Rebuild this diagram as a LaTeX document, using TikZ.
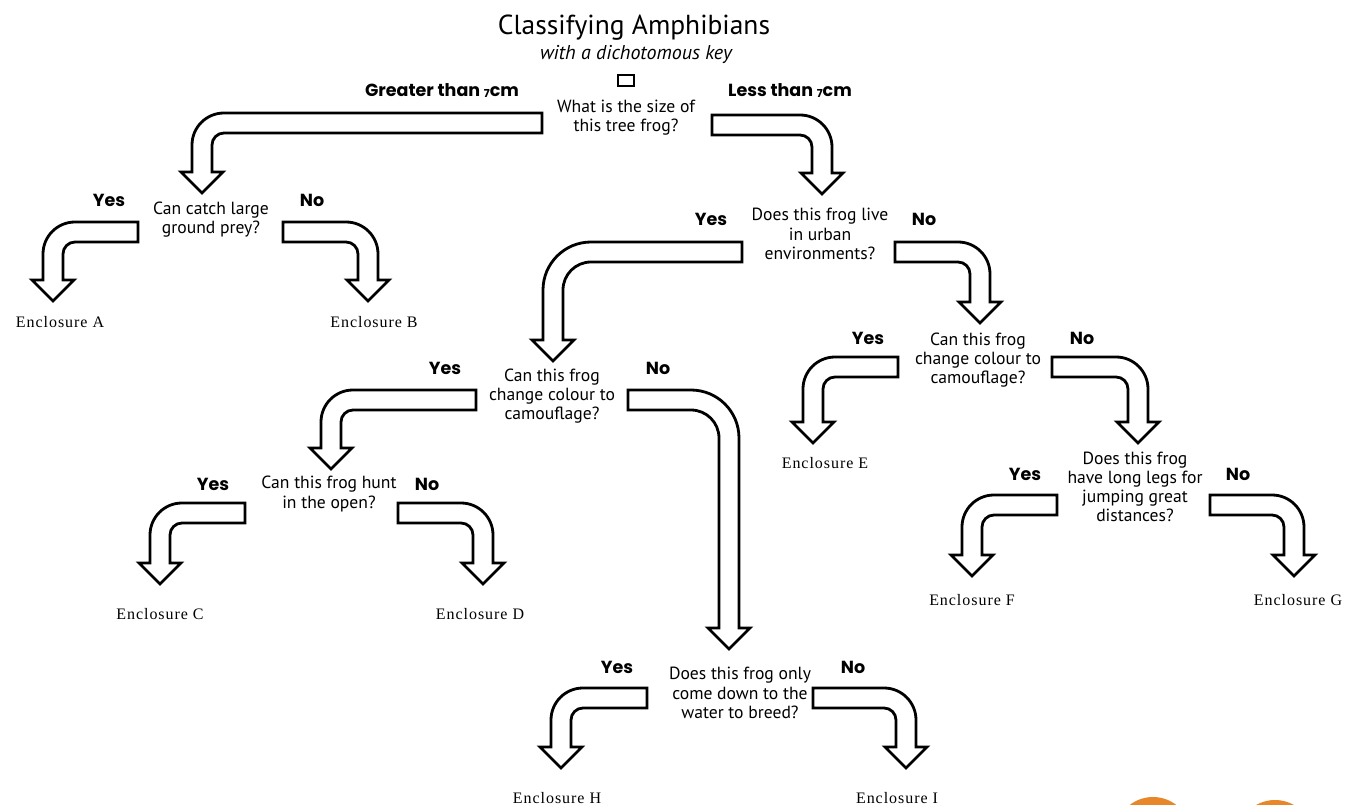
\documentclass[tikz,border=0pt]{standalone}
\usepackage{fontspec}
\setmainfont{PT Sans}
\newfontfamily\ynfont{Poppins}
\newfontfamily\encfont{Liberation Serif}[LetterSpace=6]
\definecolor{blob}{HTML}{E8872A}
\tikzset{
  arrowline/.style={draw=black, line width=2.8pt, fill=white, line join=miter},
  question/.style={align=center, font=\fontsize{17.6}{19.2}\selectfont, inner sep=0pt},
  yn/.style={font=\ynfont\bfseries\fontsize{17.5}{17.5}\selectfont, inner sep=0pt},
  encl/.style={font=\encfont\fontsize{16}{16}\selectfont, inner sep=0pt},
}
% left-turning bent arrow: tail right x, band top y, shaft centre x, head base y, outer radius
\newcommand{\leftarrowshape}[5]{%
  \draw[arrowline] (#1,-#2) -- ({#3-10+#5},-#2) arc[start angle=90,end angle=180,radius=#5]
    -- ({#3-10},-#4) -- ({#3-21},-#4) -- (#3,{-#4-21}) -- ({#3+21},-#4) -- ({#3+10},-#4)
    -- ({#3+10},{-#2-#5}) arc[start angle=180,end angle=90,radius={#5-20}]
    -- (#1,{-#2-20}) -- cycle;}
% right-turning bent arrow: tail left x, band top y, shaft centre x, head base y, outer radius
\newcommand{\rightarrowshape}[5]{%
  \draw[arrowline] (#1,-#2) -- ({#3+10-#5},-#2) arc[start angle=90,end angle=0,radius=#5]
    -- ({#3+10},-#4) -- ({#3+21},-#4) -- (#3,{-#4-21}) -- ({#3-21},-#4) -- ({#3-10},-#4)
    -- ({#3-10},{-#2-#5}) arc[start angle=0,end angle=90,radius={#5-20}]
    -- (#1,{-#2-20}) -- cycle;}
\begin{document}
\begin{tikzpicture}[x=1pt,y=1pt]
\useasboundingbox (0,0) rectangle (1345,-805);
\fill[white] (0,0) rectangle (1345,-805);
\begin{scope}
\clip (0,0) rectangle (1345,-805);
\fill[blob] (1153,-835) circle[radius=38];
\fill[blob] (1275,-838) circle[radius=38];
\end{scope}

% title
\node[inner sep=0pt, font=\fontsize{27.5}{27.5}\selectfont] (title) at (634,-28) {Classifying Amphibians};
\node[inner sep=0pt, font=\itshape\fontsize{20}{20}\selectfont] (subtitle) at (636,-54) {with a dichotomous key};
\node[draw, line width=2.8pt, minimum width=16pt, minimum height=11pt, inner sep=0pt] (box) at (626,-80.5) {};

\node[yn] (gt) at (442,-91) {Greater than {\fontsize{11}{11}\selectfont\raisebox{-1pt}{7}}cm};
\node[yn] (lt) at (790,-91) {Less than {\fontsize{11}{11}\selectfont\raisebox{-1pt}{7}}cm};

% questions
\node[question] (q1) at (626,-118) {What is the size of\\this tree frog?};
\node[question] (q2) at (211,-220) {Can catch large\\ground prey?};
\node[question] (q3) at (820,-234) {Does this frog live\\in urban\\environments?};
\node[question] (q4) at (552,-396) {Can this frog\\change colour to\\camouflage?};
\node[question] (q5) at (978,-360) {Can this frog\\change colour to\\camouflage?};
\node[question] (q6) at (329,-494) {Can this frog hunt\\in the open?};
\node[question] (q7) at (1135,-487) {Does this frog\\have long legs for\\jumping great\\distances?};
\node[question] (q8) at (740,-693) {Does this frog only\\come down to the\\water to breed?};

% yes / no labels
\node[yn] (y2) at (109,-200) {Yes};
\node[yn] (n2) at (312,-200) {No};
\node[yn] (y3) at (711,-219) {Yes};
\node[yn] (n3) at (924,-219) {No};
\node[yn] (y4) at (445,-368) {Yes};
\node[yn] (n4) at (658,-368) {No};
\node[yn] (y5) at (868,-338) {Yes};
\node[yn] (n5) at (1082,-338) {No};
\node[yn] (y6) at (213,-484) {Yes};
\node[yn] (n6) at (427,-484) {No};
\node[yn] (y7) at (1025,-474) {Yes};
\node[yn] (n7) at (1238,-474) {No};
\node[yn] (y8) at (617,-667) {Yes};
\node[yn] (n8) at (853,-667) {No};

% enclosures
\node[encl] (ea) at (60,-322) {Enclosure A};
\node[encl] (eb) at (374,-322) {Enclosure B};
\node[encl] (ec) at (160,-614) {Enclosure C};
\node[encl] (ed) at (480,-614) {Enclosure D};
\node[encl] (ee) at (825,-463) {Enclosure E};
\node[encl] (ef) at (972,-600) {Enclosure F};
\node[encl] (eg) at (1298,-600) {Enclosure G};
\node[encl] (eh) at (557,-798) {Enclosure H};
\node[encl] (ei) at (897,-798) {Enclosure I};

% arrows
\leftarrowshape{542}{113}{202}{172}{32}
\rightarrowshape{712}{115}{822}{173}{32}
\leftarrowshape{138}{222}{53}{280}{32}
\rightarrowshape{283}{222}{368}{280}{32}
\leftarrowshape{742}{242}{553}{340}{48}
\rightarrowshape{895}{242}{980}{302}{32}
\leftarrowshape{476}{390}{331}{448}{32}
\rightarrowshape{628}{390}{729}{628}{48}
\leftarrowshape{898}{357}{813}{422}{32}
\rightarrowshape{1052}{357}{1138}{422}{32}
\leftarrowshape{1057}{495}{972}{555}{32}
\rightarrowshape{1210}{495}{1294}{555}{32}
\leftarrowshape{245}{503}{160}{563}{32}
\rightarrowshape{398}{503}{483}{563}{32}
\leftarrowshape{647}{688}{561}{747}{32}
\rightarrowshape{813}{688}{906}{747}{32}
\end{tikzpicture}
\end{document}
